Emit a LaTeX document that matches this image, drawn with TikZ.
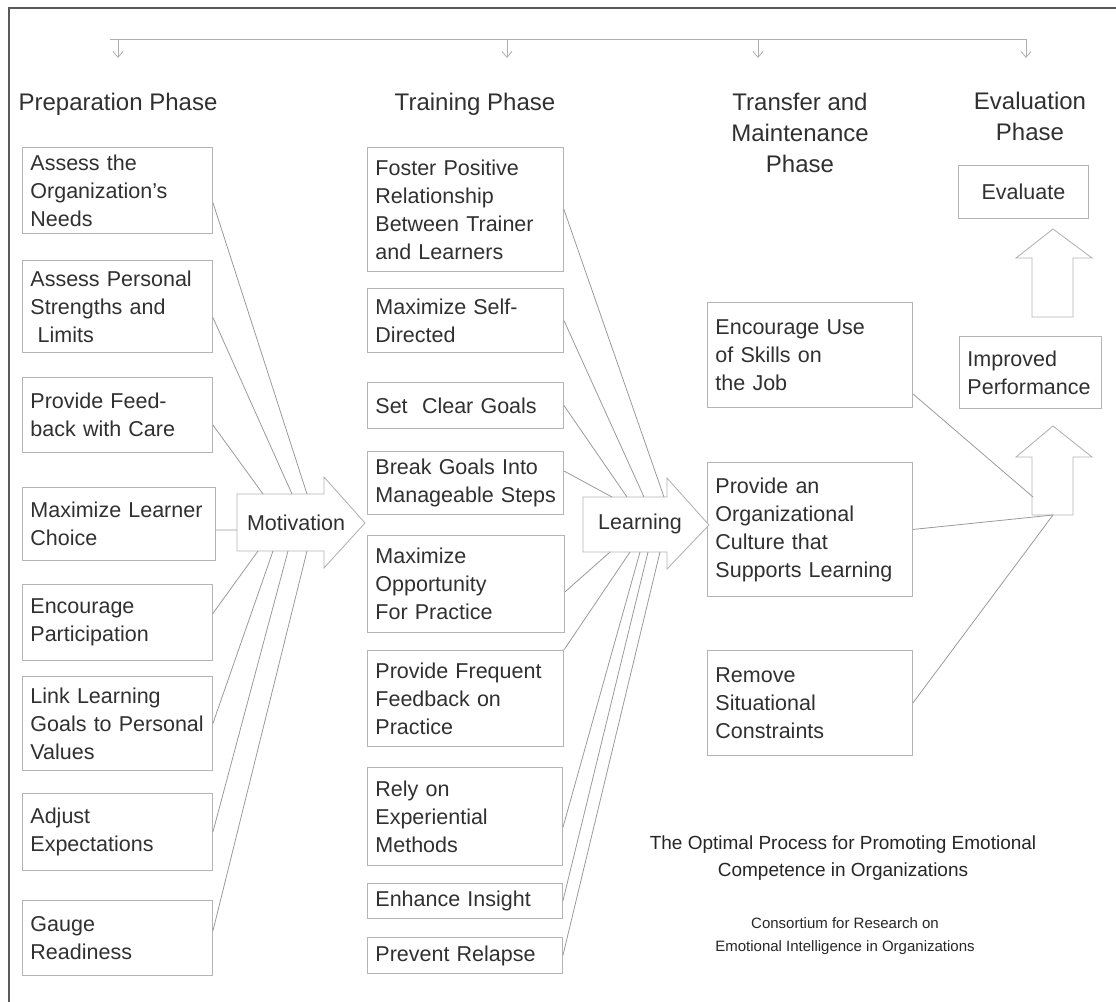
\documentclass[tikz,border=0pt]{standalone}
\usepackage{fontspec}
\setmainfont{Liberation Sans}
\usetikzlibrary{arrows.meta}
\definecolor{ink}{HTML}{303030}
\definecolor{rule_gray}{HTML}{B4B4B4}
\definecolor{link_gray}{HTML}{9A9A9A}
\definecolor{frame_gray}{HTML}{5A5A5A}
\newcommand{\boxfont}{\fontsize{21.5}{28}\selectfont}
\newcommand{\headfont}{\fontsize{24}{31}\selectfont}

\begin{document}
\begin{tikzpicture}[x=1pt,y=-1pt,
    box/.style={draw=rule_gray,line width=0.9pt,anchor=north west,inner xsep=8pt,inner ysep=3pt,align=left,font=\boxfont,text=ink},
    head/.style={font=\headfont,text=ink,align=center},
    link/.style={draw=link_gray,line width=0.8pt},
    blockarrow/.style={draw=rule_gray,line width=0.9pt,fill=white},
    drop/.style={draw=link_gray!80,line width=0.8pt,-{Straight Barb[length=6pt,width=10pt]}}]
    \useasboundingbox (0,0) rectangle (1116,1001);
    \draw[frame_gray,line width=1.6pt] (9,1010) -- (9,8) -- (1120,8);

    % phase headings and the bar above them
    \node[head] (prephead) at (118,104) {Preparation Phase};
    \node[head] (trainhead) at (475,104) {Training Phase};
    \node[head] (transhead) at (800,133) {Transfer and\\Maintenance\\Phase};
    \node[head] (evalhead) at (1030,116) {Evaluation\\Phase};
    \coordinate (bar_w) at (110,39);
    \coordinate (bar_e) at (1026,39);
    \coordinate (drop1) at (118,39);
    \coordinate (drop2) at (507,39);
    \coordinate (drop3) at (758,39);
    \draw[link_gray!80,line width=0.8pt] (bar_w) -- (bar_e);
    \draw[drop] (drop1) -- ++(0,19);
    \draw[drop] (drop2) -- ++(0,19);
    \draw[drop] (drop3) -- ++(0,19);
    \draw[drop] (bar_e) -- ++(0,19);

    % preparation phase
    \node[box,text width=174pt,minimum height=86pt] (prep1) at (22,147) {Assess the\\Organization's\\Needs};
    \node[box,text width=174pt,minimum height=92pt] (prep2) at (22,260) {Assess Personal\\Strengths and\\\ Limits};
    \node[box,text width=174pt,minimum height=75pt] (prep3) at (22,377) {Provide Feed-\\back with Care};
    \node[box,text width=177pt,minimum height=73pt] (prep4) at (22,487) {Maximize Learner\\Choice};
    \node[box,text width=174pt,minimum height=76pt] (prep5) at (22,584) {Encourage\\Participation};
    \node[box,text width=174pt,minimum height=94pt] (prep6) at (22,676) {Link Learning\\Goals to Personal\\Values};
    \node[box,text width=174pt,minimum height=77pt] (prep7) at (22,793) {Adjust\\Expectations};
    \node[box,text width=174pt,minimum height=75pt] (prep8) at (22,900) {Gauge\\Readiness};

    % training phase
    \node[box,text width=180pt,minimum height=124pt] (train1) at (367,147) {Foster Positive\\Relationship\\Between Trainer\\and Learners};
    \node[box,text width=180pt,minimum height=64pt] (train2) at (367,288) {Maximize Self-\\Directed};
    \node[box,text width=180pt,minimum height=46pt] (train3) at (367,382) {Set~ Clear Goals};
    \node[box,inner xsep=5pt,text width=186pt,minimum height=63pt] (train4) at (367,451) {\hspace{3pt}Break Goals Into\\\hspace{3pt}Manageable Steps};
    \node[box,text width=181pt,minimum height=97pt] (train5) at (367,535) {Maximize\\Opportunity\\For Practice};
    \node[box,text width=180pt,minimum height=96pt] (train6) at (367,650) {Provide Frequent\\Feedback on\\Practice};
    \node[box,text width=179pt,minimum height=98pt] (train7) at (367,767) {Rely on\\Experiential\\Methods};
    \node[box,text width=179pt,minimum height=35pt] (train8) at (367,883) {Enhance Insight};
    \node[box,text width=179pt,minimum height=36pt] (train9) at (367,937) {Prevent Relapse};

    % transfer and maintenance phase
    \node[box,text width=189pt,minimum height=105pt] (trans1) at (707,302) {Encourage Use\\of Skills on\\the Job};
    \node[box,text width=189pt,minimum height=134pt] (trans2) at (707,462) {Provide an\\Organizational\\Culture that\\Supports Learning};
    \node[box,text width=189pt,minimum height=105pt] (trans3) at (707,650) {Remove\\Situational\\Constraints};

    % evaluation phase
    \node[box,align=center,text width=114pt,minimum height=53pt] (evalbox) at (958,165) {Evaluate};
    \node[box,text width=126pt,minimum height=72pt] (improved) at (959,336) {Improved\\Performance};
    \draw[blockarrow] (1032,317) -- (1032,258) -- (1016,258) -- (1053,229) -- (1092,258) -- (1073,258) -- (1073,317) -- cycle;
    \draw[blockarrow] (1032,515) -- (1032,457) -- (1016,457) -- (1053,426) -- (1092,457) -- (1073,457) -- (1073,515) -- cycle;
    \coordinate (up_side) at (1033,497);
    \coordinate (up_foot) at (1053,515);

    % motivation and learning arrows
    \draw[blockarrow] (324,494) -- (237,494) -- (237,551) -- (324,551) -- (324,568) -- (365,523) -- (324,477) -- cycle;
    \node[font=\boxfont,text=ink] (mot) at (296,523) {Motivation};
    \draw[blockarrow] (667,497) -- (583,497) -- (583,552) -- (667,552) -- (667,569) -- (709,525) -- (667,478) -- cycle;
    \node[font=\boxfont,text=ink] (learn) at (640,524) {Learning};
    \coordinate (m1) at (307,494);
    \coordinate (m2) at (292,494);
    \coordinate (m3) at (263,494);
    \coordinate (m4) at (237,530);
    \coordinate (m5) at (258,551);
    \coordinate (m6) at (273,551);
    \coordinate (m7) at (288,551);
    \coordinate (m8) at (307,551);
    \coordinate (l1) at (664,497);
    \coordinate (l2) at (644,497);
    \coordinate (l3) at (627,497);
    \coordinate (l4) at (612,497);
    \coordinate (l5) at (610,552);
    \coordinate (l6) at (630,552);
    \coordinate (l7) at (640,552);
    \coordinate (l8) at (648,552);
    \coordinate (l9) at (660,552);

    % preparation -> motivation
    \draw[link] ([yshift=-12pt]prep1.east) -- (m1);
    \draw[link] ([yshift=-11pt]prep2.east) -- (m2);
    \draw[link] ([yshift=-10pt]prep3.east) -- (m3);
    \draw[link] ([yshift=-6pt]prep4.east) -- (m4);
    \draw[link] ([yshift=9pt]prep5.east) -- (m5);
    \draw[link] (prep6.east) -- (m6);
    \draw[link] (prep7.east) -- (m7);
    \draw[link] ([yshift=7pt]prep8.east) -- (m8);

    % training -> learning
    \draw[link] (train1.east) -- (l1);
    \draw[link] (train2.east) -- (l2);
    \draw[link] (train3.east) -- (l3);
    \draw[link] ([yshift=12pt]train4.east) -- (l4);
    \draw[link] ([yshift=-8pt]train5.east) -- (l5);
    \draw[link] (train6.north east) -- (l6);
    \draw[link] ([yshift=-11pt]train7.east) -- (l7);
    \draw[link] (train8.east) -- (l8);
    \draw[link] (train9.east) -- (l9);

    % transfer -> improved performance
    \draw[link] ([yshift=14pt]trans1.south east) -- (up_side);
    \draw[link] (trans2.east) -- (up_foot);
    \draw[link] (trans3.east) -- (up_foot);

    % caption
    \node[font=\fontsize{19}{27}\selectfont,text=black!85,align=center] (title) at (843,858) {The Optimal Process for Promoting Emotional\\Competence in Organizations};
    \node[font=\fontsize{15}{23}\selectfont,text=black!85,align=center] (credit) at (845,936) {Consortium for Research on\\Emotional Intelligence in Organizations};
\end{tikzpicture}
\end{document}
